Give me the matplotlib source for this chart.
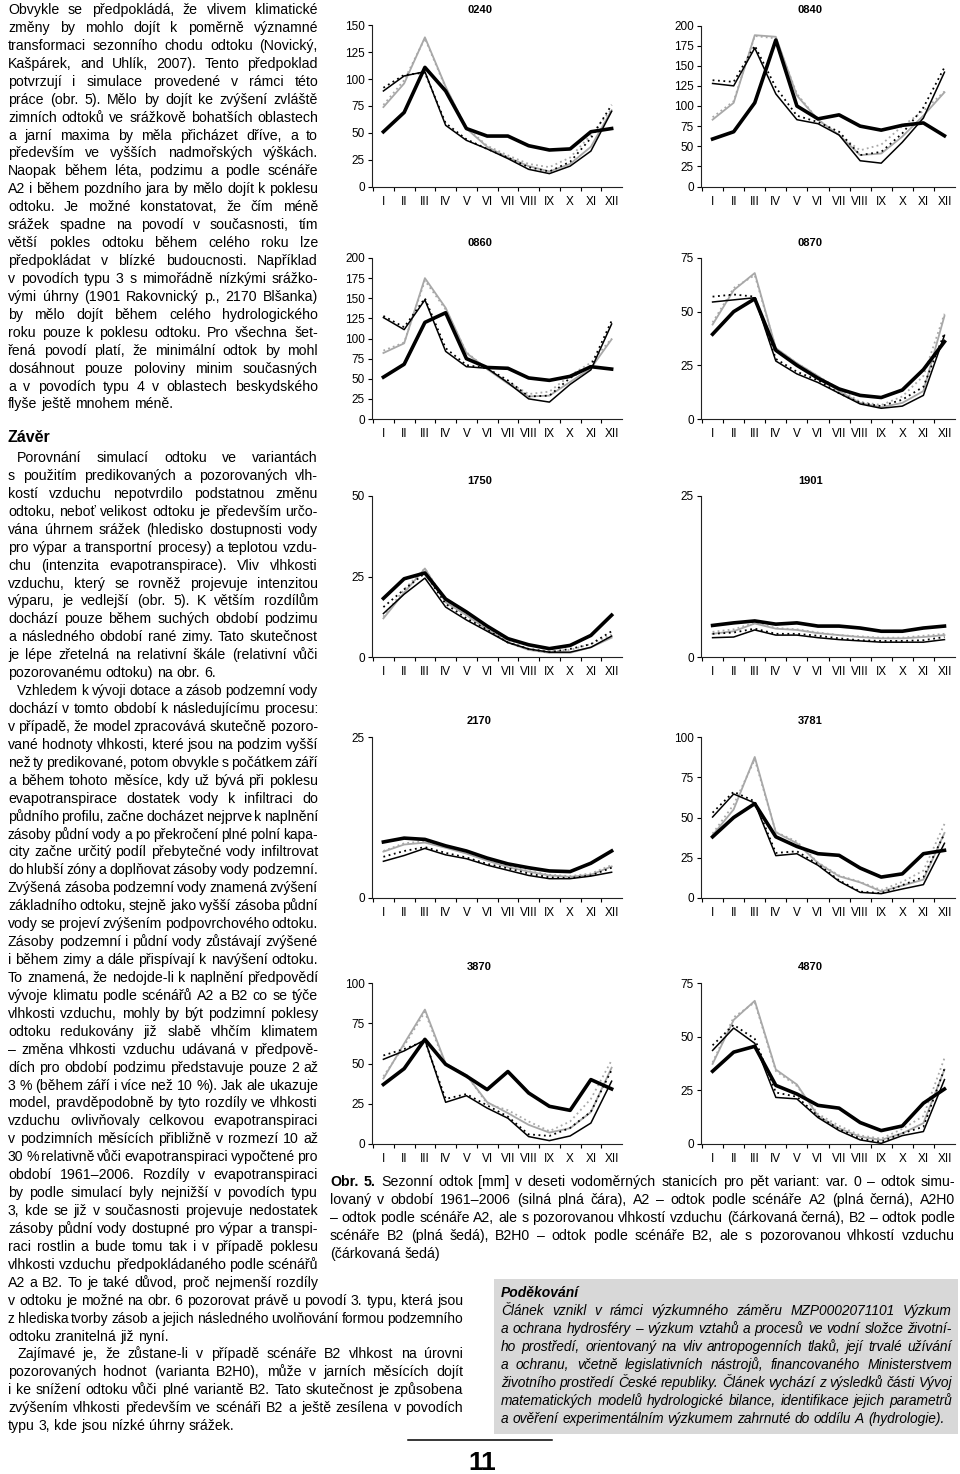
import numpy as np
import matplotlib
matplotlib.use('Agg')
import matplotlib.pyplot as plt
from matplotlib.font_manager import FontProperties
from matplotlib.patches import Rectangle
from matplotlib.lines import Line2D

W, H = 960, 1474
plt.rcParams['font.family'] = ['Liberation Sans', 'DejaVu Sans']

months = ['I', 'II', 'III', 'IV', 'V', 'VI', 'VII', 'VIII', 'IX', 'X', 'XI', 'XII']

# seasonal runoff [mm]: var0, A2, A2H0, B2, B2H0
q0240_var0 = [51, 69, 111, 89, 54, 47, 47, 38, 34, 35, 51, 54]
q0240_a2 = [89, 103, 107, 57, 43, 35, 26, 16, 12, 19, 33, 70]
q0240_a2h0 = [92, 104, 106, 59, 44, 35, 27, 18, 14, 23, 45, 76]
q0240_b2 = [74, 96, 139, 93, 54, 37, 27, 19, 14, 21, 37, 71]
q0240_b2h0 = [76, 99, 138, 92, 55, 38, 29, 21, 18, 27, 48, 72]

q0840_var0 = [59, 68, 104, 182, 100, 84, 89, 75, 70, 76, 79, 63]
q0840_a2 = [128, 125, 172, 115, 83, 78, 64, 32, 29, 55, 85, 142]
q0840_a2h0 = [132, 130, 175, 123, 88, 80, 68, 39, 43, 66, 98, 148]
q0840_b2 = [83, 104, 188, 186, 113, 83, 64, 39, 41, 62, 88, 117]
q0840_b2h0 = [86, 106, 187, 184, 115, 83, 64, 45, 52, 75, 94, 118]

q0860_var0 = [52, 68, 120, 132, 75, 64, 63, 51, 48, 53, 65, 62]
q0860_a2 = [126, 111, 148, 84, 65, 63, 45, 25, 21, 43, 61, 118]
q0860_a2h0 = [128, 114, 150, 88, 67, 63, 48, 28, 29, 51, 66, 122]
q0860_b2 = [82, 94, 175, 138, 82, 62, 44, 28, 29, 46, 63, 99]
q0860_b2h0 = [85, 95, 172, 136, 83, 62, 46, 31, 34, 54, 70, 100]

q0870_var0 = [39.5, 50, 56, 32, 25, 19, 14, 11, 10, 13.5, 23, 36]
q0870_a2 = [54.5, 55.5, 56.5, 27, 21, 17, 12, 7, 5, 6, 11, 39]
q0870_a2h0 = [57, 58, 57, 28, 22, 18, 12, 7.5, 6, 9, 15, 40]
q0870_b2 = [44, 60, 68, 33, 26, 20, 13, 7.5, 5.5, 7.5, 13, 48]
q0870_b2h0 = [45, 61, 67, 33, 26, 20, 14, 8, 6.5, 10.5, 20, 49]

q1750_var0 = [18.2, 24.3, 26.1, 18, 14, 9.6, 5.7, 3.8, 2.6, 3.6, 6.7, 13]
q1750_a2 = [13.5, 19.5, 24.5, 15.5, 11.5, 8, 4.5, 2.5, 1.5, 1.5, 3, 6.5]
q1750_a2h0 = [15.5, 21, 26, 16.5, 12, 8.5, 4.5, 2.5, 1.5, 2.5, 4, 8]
q1750_b2 = [12, 20, 27.5, 17, 13, 8.5, 4.5, 2.2, 1.3, 1.3, 3, 6]
q1750_b2h0 = [12.5, 21, 27.5, 17.5, 13, 9, 5, 2.5, 1.8, 2.2, 4, 7]

q1901_var0 = [4.9, 5.3, 5.6, 5.1, 5.3, 4.8, 4.8, 4.5, 4.0, 4.0, 4.5, 4.8]
q1901_a2 = [3.0, 3.1, 4.2, 3.4, 3.4, 3.0, 2.7, 2.5, 2.3, 2.3, 2.3, 2.7]
q1901_a2h0 = [3.6, 3.8, 4.4, 3.6, 3.6, 3.3, 2.9, 2.6, 2.5, 2.5, 2.6, 3.1]
q1901_b2 = [3.6, 4.0, 5.2, 4.4, 4.2, 3.7, 3.4, 3.1, 2.9, 2.9, 3.1, 3.4]
q1901_b2h0 = [3.9, 4.3, 5.3, 4.5, 4.3, 3.8, 3.4, 3.2, 3.0, 3.0, 3.3, 3.6]

q2170_var0 = [8.7, 9.3, 9.1, 8.1, 7.3, 6.2, 5.3, 4.7, 4.2, 4.1, 5.4, 7.3]
q2170_a2 = [5.7, 6.6, 7.7, 6.7, 6.1, 5.1, 4.3, 3.5, 3.0, 3.0, 3.4, 4.0]
q2170_a2h0 = [6.4, 7.3, 7.9, 7.0, 6.3, 5.3, 4.6, 3.8, 3.2, 3.1, 3.5, 4.7]
q2170_b2 = [7.2, 8.3, 8.6, 7.8, 6.9, 5.8, 4.8, 4.1, 3.5, 3.3, 3.6, 4.9]
q2170_b2h0 = [7.3, 8.5, 8.8, 8.0, 7.1, 6.0, 5.0, 4.2, 3.6, 3.4, 3.8, 5.1]

q3781_var0 = [38, 50, 58.6, 38, 32, 27.5, 26.5, 18.6, 13, 15, 27.5, 29.6]
q3781_a2 = [50.3, 64.6, 59, 26.3, 27.5, 20.3, 10.4, 3.5, 2.7, 5.6, 8.3, 34]
q3781_a2h0 = [53, 66, 60, 28, 29, 21, 11, 4, 3, 8, 13, 40]
q3781_b2 = [39, 55, 87.6, 40.8, 34, 21.7, 13.5, 9.7, 4.1, 7.7, 11.4, 40.4]
q3781_b2h0 = [40, 58, 86, 41, 35, 22, 14, 10, 5, 10, 17, 46]

q3870_var0 = [37, 46.8, 65, 49.5, 42.2, 33.8, 45, 31.7, 23.4, 20.9, 40, 34.2]
q3870_a2 = [52.6, 57.8, 64.7, 25.9, 30, 22.3, 16, 4.6, 2.1, 5, 13, 39]
q3870_a2h0 = [55, 59, 64, 28, 31, 24, 17, 6, 5, 10, 20, 46]
q3870_b2 = [40.7, 62.4, 83.5, 50, 42.8, 26, 19.2, 11.9, 7.1, 9.8, 19.8, 47.4]
q3870_b2h0 = [42, 61, 82, 49, 43, 25, 21, 14, 8, 14, 28, 52]

q4870_var0 = [33.9, 42.8, 45.5, 27.3, 23.3, 18, 16.7, 10, 6.25, 8.4, 19, 25.6]
q4870_a2 = [43.6, 54, 46.9, 21.7, 21, 12.3, 6.25, 1.9, 0.3, 3.9, 5.8, 30]
q4870_a2h0 = [46, 55.5, 49, 24, 22, 13, 7, 2.5, 1, 5, 8, 35]
q4870_b2 = [37.3, 57.8, 66.7, 34.7, 27.7, 13.1, 7.3, 3.4, 1.9, 5, 9.7, 34.7]
q4870_b2h0 = [38, 59, 66, 34, 27, 14, 8.5, 4, 2.5, 7, 13, 40]

stations = [
    ('0240', 150, q0240_var0, q0240_a2, q0240_a2h0, q0240_b2, q0240_b2h0),
    ('0840', 200, q0840_var0, q0840_a2, q0840_a2h0, q0840_b2, q0840_b2h0),
    ('0860', 200, q0860_var0, q0860_a2, q0860_a2h0, q0860_b2, q0860_b2h0),
    ('0870', 75, q0870_var0, q0870_a2, q0870_a2h0, q0870_b2, q0870_b2h0),
    ('1750', 50, q1750_var0, q1750_a2, q1750_a2h0, q1750_b2, q1750_b2h0),
    ('1901', 25, q1901_var0, q1901_a2, q1901_a2h0, q1901_b2, q1901_b2h0),
    ('2170', 25, q2170_var0, q2170_a2, q2170_a2h0, q2170_b2, q2170_b2h0),
    ('3781', 100, q3781_var0, q3781_a2, q3781_a2h0, q3781_b2, q3781_b2h0),
    ('3870', 100, q3870_var0, q3870_a2, q3870_a2h0, q3870_b2, q3870_b2h0),
    ('4870', 75, q4870_var0, q4870_a2, q4870_a2h0, q4870_b2, q4870_b2h0),
]

# page text
para1 = [
    "Obvykle se předpokládá, že vlivem klimatické",
    "změny by mohlo dojít k poměrně významné",
    "transformaci sezonního chodu odtoku (Novický,",
    "Kašpárek, and Uhlík, 2007). Tento předpoklad",
    "potvrzují i simulace provedené v rámci této",
    "práce (obr. 5). Mělo by dojít ke zvýšení zvláště",
    "zimních odtoků ve srážkově bohatších oblastech",
    "a jarní maxima by měla přicházet dříve, a to",
    "především ve vyšších nadmořských výškách.",
    "Naopak během léta, podzimu a podle scénáře",
    "A2 i během pozdního jara by mělo dojít k poklesu",
    "odtoku. Je možné konstatovat, že čím méně",
    "srážek spadne na povodí v současnosti, tím",
    "větší pokles odtoku během celého roku lze",
    "předpokládat v blízké budoucnosti. Například",
    "v povodích typu 3 s mimořádně nízkými srážko-",
    "vými úhrny (1901 Rakovnický p., 2170 Blšanka)",
    "by mělo dojít během celého hydrologického",
    "roku pouze k poklesu odtoku. Pro všechna šet-",
    "řená povodí platí, že minimální odtok by mohl",
    "dosáhnout pouze poloviny minim současných",
    "a v povodích typu 4 v oblastech beskydského",
    "flyše ještě mnohem méně.",
]
para2 = [
    "Porovnání simulací odtoku ve variantách",
    "s použitím predikovaných a pozorovaných vlh-",
    "kostí vzduchu nepotvrdilo podstatnou změnu",
    "odtoku, neboť velikost odtoku je především určo-",
    "vána úhrnem srážek (hledisko dostupnosti vody",
    "pro výpar a transportní procesy) a teplotou vzdu-",
    "chu (intenzita evapotranspirace). Vliv vlhkosti",
    "vzduchu, který se rovněž projevuje intenzitou",
    "výparu, je vedlejší (obr. 5). K větším rozdílům",
    "dochází pouze během suchých období podzimu",
    "a následného období rané zimy. Tato skutečnost",
    "je lépe zřetelná na relativní škále (relativní vůči",
    "pozorovanému odtoku) na obr. 6.",
]
para3 = [
    "Vzhledem k vývoji dotace a zásob podzemní vody",
    "dochází v tomto období k následujícímu procesu:",
    "v případě, že model zpracovává skutečně pozoro-",
    "vané hodnoty vlhkosti, které jsou na podzim vyšší",
    "než ty predikované, potom obvykle s počátkem září",
    "a během tohoto měsíce, kdy už bývá při poklesu",
    "evapotranspirace dostatek vody k infiltraci do",
    "půdního profilu, začne docházet nejprve k naplnění",
    "zásoby půdní vody a po překročení plné polní kapa-",
    "city začne určitý podíl přebytečné vody infiltrovat",
    "do hlubší zóny a doplňovat zásoby vody podzemní.",
    "Zvýšená zásoba podzemní vody znamená zvýšení",
    "základního odtoku, stejně jako vyšší zásoba půdní",
    "vody se projeví zvýšením podpovrchového odtoku.",
    "Zásoby podzemní i půdní vody zůstávají zvýšené",
    "i během zimy a dále přispívají k navýšení odtoku.",
    "To znamená, že nedojde-li k naplnění předpovědí",
    "vývoje klimatu podle scénářů A2 a B2 co se týče",
    "vlhkosti vzduchu, mohly by být podzimní poklesy",
    "odtoku redukovány již slabě vlhčím klimatem",
    "– změna vlhkosti vzduchu udávaná v předpově-",
    "dích pro období podzimu představuje pouze 2 až",
    "3 % (během září i více než 10 %). Jak ale ukazuje",
    "model, pravděpodobně by tyto rozdíly ve vlhkosti",
    "vzduchu ovlivňovaly celkovou evapotranspiraci",
    "v podzimních měsících přibližně v rozmezí 10 až",
    "30 % relativně vůči evapotranspiraci vypočtené pro",
    "období 1961–2006. Rozdíly v evapotranspiraci",
    "by podle simulací byly nejnižší v povodích typu",
    "3, kde se již v současnosti projevuje nedostatek",
    "zásoby půdní vody dostupné pro výpar a transpi-",
    "raci rostlin a bude tomu tak i v případě poklesu",
    "vlhkosti vzduchu předpokládaného podle scénářů",
    "A2 a B2. To je také důvod, proč nejmenší rozdíly",
    "v odtoku je možné na obr. 6 pozorovat právě u povodí 3. typu, která jsou",
    "z hlediska tvorby zásob a jejich následného uvolňování formou podzemního",
    "odtoku zranitelná již nyní.",
]
para4 = [
    "Zajímavé je, že zůstane-li v případě scénáře B2 vlhkost na úrovni",
    "pozorovaných hodnot (varianta B2H0), může v jarních měsících dojít",
    "i ke snížení odtoku vůči plné variantě B2. Tato skutečnost je způsobena",
    "zvýšením vlhkosti především ve scénáři B2 a ještě zesílena v povodích",
    "typu 3, kde jsou nízké úhrny srážek.",
]
caption = [
    "Obr. 5. Sezonní odtok [mm] v deseti vodoměrných stanicích pro pět variant: var. 0 – odtok simu-",
    "lovaný v období 1961–2006 (silná plná čára), A2 – odtok podle scénáře A2 (plná černá), A2H0",
    "– odtok podle scénáře A2, ale s pozorovanou vlhkostí vzduchu (čárkovaná černá), B2 – odtok podle",
    "scénáře B2 (plná šedá), B2H0 – odtok podle scénáře B2, ale s pozorovanou vlhkostí vzduchu",
    "(čárkovaná šedá)",
]
thanks = [
    "Článek vznikl v rámci výzkumného záměru MZP0002071101 Výzkum",
    "a ochrana hydrosféry – výzkum vztahů a procesů ve vodní složce životní-",
    "ho prostředí, orientovaný na vliv antropogenních tlaků, její trvalé užívání",
    "a ochranu, včetně legislativních nástrojů, financovaného Ministerstvem",
    "životního prostředí České republiky. Článek vychází z výsledků části Vývoj",
    "matematických modelů hydrologické bilance, identifikace jejich parametrů",
    "a ověření experimentálním výzkumem zahrnuté do oddílu A (hydrologie).",
]

fig = plt.figure(figsize=(W / 100, H / 100), dpi=100)
renderer = fig.canvas.get_renderer()
body_font = ['Liberation Sans', 'DejaVu Sans']
BODY = 10.2


def text_w(s, prop):
    return renderer.get_text_width_height_descent(s, prop, ismath=False)[0]


def put_word(w, prop, x, yb):
    # nudge the baseline so that Agg's pixel rounding puts every word on the same row
    _, h, d = renderer.get_text_width_height_descent(w, prop, ismath=False)
    y = round(yb) + np.floor(h) - np.floor(h - d) - d
    fig.text(x / W, 1 - y / H, w, fontproperties=prop, va='baseline', ha='left')


def put_line(s, x0, x1, yb, size=BODY, justify=True, style='normal', nbold=0):
    words = s.split()
    props = [FontProperties(family=body_font, size=size, style=style,
                            weight='bold' if i < nbold else 'normal')
             for i in range(len(words))]
    widths = [text_w(w, p) for w, p in zip(words, props)]
    space = text_w('a a', props[-1]) - text_w('aa', props[-1])
    gap = space
    if justify and len(words) > 1:
        gap = (x1 - x0 - sum(widths)) / (len(words) - 1)
        if gap < 0.6 * space and size > 7:
            return put_line(s, x0, x1, yb, size * 0.985, justify, style, nbold)
    x = x0
    for w, p, wd in zip(words, props, widths):
        put_word(w, p, x, yb)
        x += wd + gap


def put_para(lines, x0, x1, yb, step, indent=0, wide_from=None, x1_wide=None):
    for i, s in enumerate(lines):
        right = x1
        if wide_from is not None and i >= wide_from:
            right = x1_wide
        put_line(s, x0 + (indent if i == 0 else 0), right, yb + i * step,
                 justify=(i < len(lines) - 1))
    return yb + len(lines) * step


step = 17.93
put_para(para1, 8, 318, 14, step)
put_word('Závěr', FontProperties(family=body_font, size=11.5, weight='bold'), 8, 442)
y = put_para(para2, 8, 318, 462, step, indent=9)
y = put_para(para3, 8, 318, y, step, indent=9, wide_from=34, x1_wide=463)
put_para(para4, 8, 463, y, step, indent=9)

# caption
for i, s in enumerate(caption):
    put_line(s, 330, 955, 1186 + i * 17.9, justify=(i < len(caption) - 1),
             nbold=2 if i == 0 else 0)

# acknowledgement box
fig.add_artist(Rectangle((494 / W, 1 - 1434 / H), 464 / W, 155 / H,
                         transform=fig.transFigure, facecolor='#d8d8d8', edgecolor='none', zorder=0))
put_word('Poděkování', FontProperties(family=body_font, size=10, weight='bold', style='italic'),
         501, 1297)
for i, s in enumerate(thanks):
    put_line(s, 501, 952, 1315 + i * 18, size=9.9, justify=(i < len(thanks) - 1), style='italic')

# page number
fig.add_artist(Line2D([408 / W, 552 / W], [1 - 1440 / H, 1 - 1440 / H],
                      transform=fig.transFigure, color='black', lw=1.1))
fig.text(482 / W, 1 - 1470 / H, '11', fontsize=19, fontweight='bold', ha='center', va='baseline')

# charts
x = np.arange(12)
gray = '#a8a8a8'
row_tops = [25.5, 258, 496, 737, 983]
col_left = [372, 701]
col_width = [250, 254]
ax_h = 161

for k, (name, ymax, v0, a2, a2h0, b2, b2h0) in enumerate(stations):
    col, row = k % 2, k // 2
    left, width, top = col_left[col], col_width[col], row_tops[row]
    ax = fig.add_axes([left / W, 1 - (top + ax_h) / H, width / W, ax_h / H])
    ax.patch.set_alpha(0)
    ax.plot(x, b2h0, color=gray, lw=1.3, ls=(0, (1, 1.8)))
    ax.plot(x, b2, color=gray, lw=1.3)
    ax.plot(x, a2h0, color='black', lw=1.3, ls=(0, (1, 2)))
    ax.plot(x, a2, color='black', lw=1.1)
    ax.plot(x, v0, color='black', lw=2.6)
    ax.set_xlim(-0.55, 11.5)
    ax.set_ylim(0, ymax)
    ax.set_yticks(np.arange(0, ymax + 1, 25))
    ax.set_xticks(x, months)
    ax.set_xticks(np.arange(-0.5, 11.5, 1), minor=True)
    ax.tick_params(axis='x', which='major', length=0, pad=6.5, labelsize=8.5)
    ax.tick_params(axis='x', which='minor', length=3, direction='out', width=0.8)
    ax.tick_params(axis='y', length=3, pad=2, labelsize=8.5, width=0.8)
    for sp in ['top', 'right']:
        ax.spines[sp].set_visible(False)
    for sp in ['left', 'bottom']:
        ax.spines[sp].set_linewidth(0.8)
        ax.spines[sp].set_color('#222222')
    ax.text(0.43, 1 + 15.5 / ax_h, name, transform=ax.transAxes, ha='center', va='center',
            fontsize=8, fontweight='bold')

fig.savefig('out.png', dpi=100)
